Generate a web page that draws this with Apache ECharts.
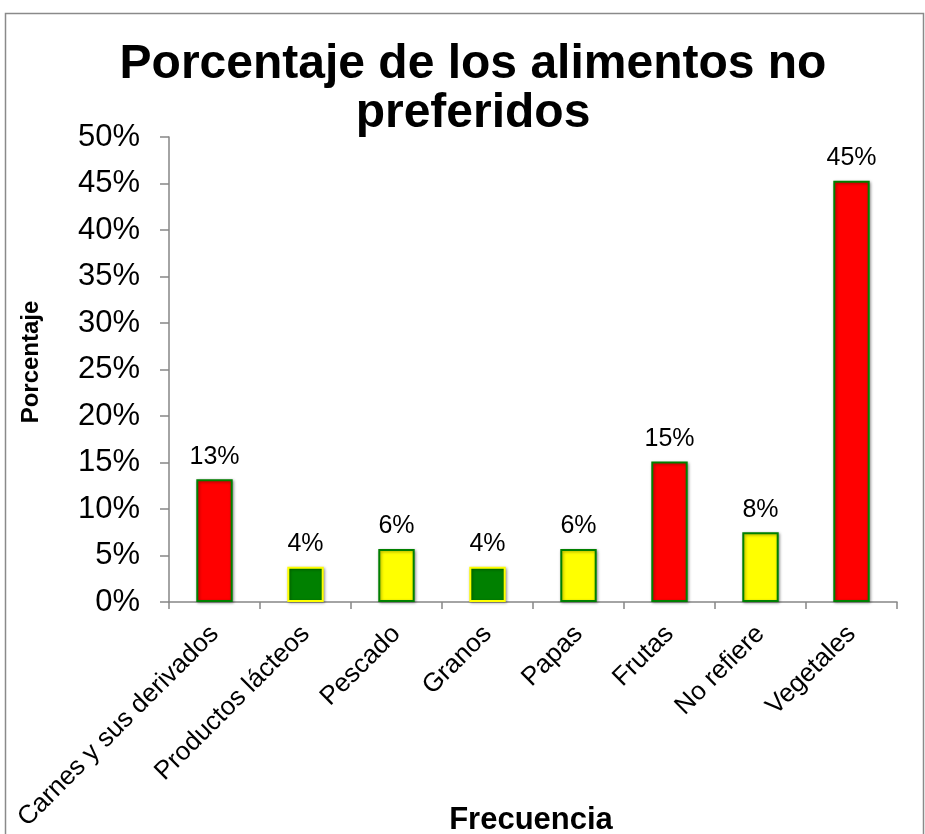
<!DOCTYPE html>
<html>
<head>
<meta charset="utf-8">
<script src="https://cdn.jsdelivr.net/npm/echarts@6/dist/echarts.min.js"></script>
<style>
  html, body { margin: 0; padding: 0; background: #fff; }
  #chart { width: 925px; height: 834px; }
</style>
</head>
<body>
<div id="chart"></div>
<script>
// Food categories and the share of respondents naming each as not preferred (%)
const categories = ['Carnes y sus derivados', 'Productos lácteos', 'Pescado', 'Granos', 'Papas', 'Frutas', 'No refiere', 'Vegetales'];
const percentages = [13.2, 3.8, 5.7, 3.8, 5.7, 15.1, 7.5, 45.3];
const fillColors = ['#FF0000', '#008000', '#FFFF00', '#008000', '#FFFF00', '#FF0000', '#FFFF00', '#FF0000'];
const borderColors = ['#008000', '#FFFF00', '#008000', '#FFFF00', '#008000', '#008000', '#008000', '#008000'];
const yTicks = [0, 5, 10, 15, 20, 25, 30, 35, 40, 45, 50];

const FONT = '"Liberation Sans", Arial, sans-serif';
const chart = echarts.init(document.getElementById('chart'), null, { renderer: 'canvas' });

chart.setOption({
  backgroundColor: '#ffffff',
  animation: false,
  title: {
    text: 'Porcentaje de los alimentos no\npreferidos',
    left: 473,
    top: 40,
    textAlign: 'center',
    padding: 0,
    textStyle: {
      fontFamily: FONT,
      fontSize: 48,
      fontWeight: 'bold',
      color: '#000',
      lineHeight: 49
    }
  },
  grid: { left: 169, right: 28, top: 137, bottom: 232, containLabel: false },
  xAxis: {
    type: 'category',
    data: categories,
    axisLine: { lineStyle: { color: '#868686', width: 1.5 } },
    axisTick: { show: true, alignWithLabel: false, length: 7, lineStyle: { color: '#868686', width: 1.5 } },
    axisLabel: {
      interval: 0,
      rotate: 45,
      margin: 28,
      fontFamily: FONT,
      fontSize: 26,
      color: '#000'
    }
  },
  yAxis: {
    type: 'value',
    min: yTicks[0],
    max: yTicks[yTicks.length - 1],
    interval: yTicks[1] - yTicks[0],
    axisLine: { show: true, lineStyle: { color: '#868686', width: 1.5 } },
    axisTick: { show: true, length: 9, lineStyle: { color: '#868686', width: 1.5 } },
    splitLine: { show: false },
    axisLabel: {
      margin: 29,
      fontFamily: FONT,
      fontSize: 31,
      color: '#000',
      formatter: v => v + '%'
    }
  },
  series: [{
    type: 'bar',
    barWidth: '40%',
    data: percentages.map((v, i) => ({
      value: v,
      itemStyle: {
        color: fillColors[i],
        borderColor: borderColors[i],
        borderWidth: 2,
        shadowColor: 'rgba(0,0,0,0.35)',
        shadowBlur: 3,
        shadowOffsetX: 1,
        shadowOffsetY: 1
      }
    })),
    label: {
      show: true,
      position: 'top',
      distance: 10,
      fontFamily: FONT,
      fontSize: 25,
      color: '#000',
      formatter: p => Math.round(p.value) + '%'
    }
  }],
  graphic: [
    {
      type: 'rect',
      shape: { x: 5.5, y: 13.5, width: 918, height: 830 },
      style: { fill: 'none', stroke: '#8a8a8a', lineWidth: 1.5 },
      silent: true
    },
    {
      type: 'text',
      x: 31, y: 362,
      rotation: Math.PI / 2,
      style: {
        text: 'Porcentaje',
        font: 'bold 24px ' + FONT,
        fill: '#000',
        textAlign: 'center',
        textVerticalAlign: 'middle'
      }
    },
    {
      type: 'text',
      x: 531, y: 820,
      style: {
        text: 'Frecuencia',
        font: 'bold 31px ' + FONT,
        fill: '#000',
        textAlign: 'center',
        textVerticalAlign: 'middle'
      }
    }
  ]
});
</script>
</body>
</html>
